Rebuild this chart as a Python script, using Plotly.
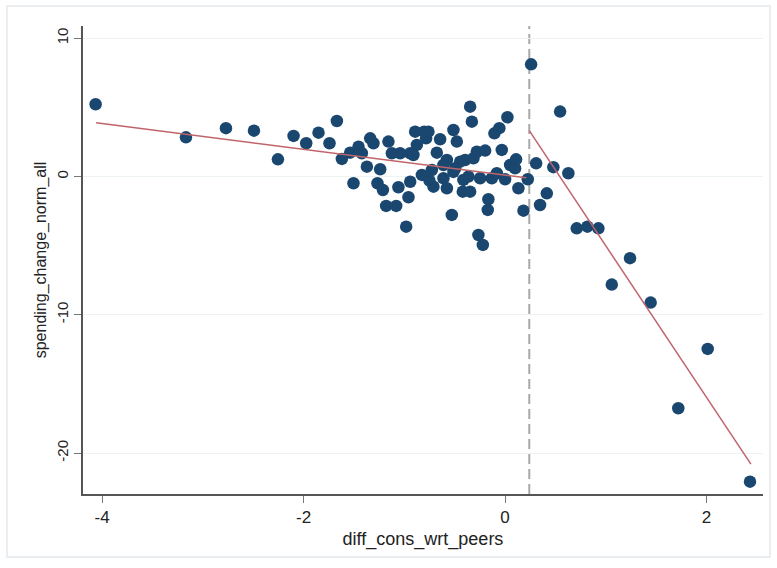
import plotly.graph_objects as go

# Scatter data
x_vals = [-4.065, -3.168, -2.771, -2.493, -2.255, -2.100, -1.974, -1.852, -1.743, -1.670,
          -1.620, -1.538, -1.505, -1.455, -1.422, -1.372, -1.339, -1.307, -1.267, -1.240,
          -1.213, -1.181, -1.158, -1.124, -1.081, -1.059, -1.042, -0.982, -0.959, -0.942,
          -0.942, -0.910, -0.893, -0.876, -0.826, -0.804, -0.784, -0.761, -0.751, -0.727,
          -0.711, -0.678, -0.645, -0.612, -0.578, -0.578, -0.529, -0.513, -0.479, -0.496,
          -0.446, -0.397, -0.414, -0.364, -0.347, -0.330, -0.314, -0.420, -0.347, -0.281,
          -0.265, -0.221, -0.248, -0.198, -0.166, -0.172, -0.132, -0.106, -0.057, -0.082,
          -0.033, 0.000, 0.023, 0.050, 0.099, 0.109, 0.132, 0.182, 0.225, 0.258,
          0.308, 0.347, 0.414, 0.479, 0.546, 0.628, 0.711, 0.817, 0.926, 1.059,
          1.240, 1.445, 1.719, 2.011, 2.431, -0.612, -0.513]
y_vals = [5.22, 2.83, 3.49, 3.31, 1.24, 2.93, 2.40, 3.17, 2.40, 4.01,
          1.27, 1.72, -0.49, 2.15, 1.68, 0.71, 2.76, 2.40, -0.49, 0.52,
          -0.98, -2.13, 2.52, 1.68, -2.13, -0.78, 1.68, -3.63, -1.50, -0.38,
          1.68, 1.55, 3.24, 2.28, 0.11, 3.24, 2.76, 3.24, -0.30, 0.47,
          -0.74, 1.72, 2.69, 0.83, -0.85, 1.19, -2.78, 3.36, 2.52, 0.59,
          1.07, 1.19, -0.25, -0.01, 5.05, 3.96, 1.32, -1.10, -1.10, 1.79,
          -4.23, -4.95, -0.13, 1.87, -1.65, -2.42, -0.13, 3.12, 3.49, 0.23,
          1.92, -0.20, 4.28, 0.83, 0.59, 1.24, -0.85, -2.47, -0.20, 8.11,
          0.95, -2.06, -1.22, 0.67, 4.69, 0.23, -3.75, -3.63, -3.75, -7.82,
          -5.91, -9.12, -16.76, -12.47, -22.07, -0.13, 0.33]

# Linear fits on each side of the cutoff
left_fit_x = [-4.06, 0.21]
left_fit_y = [3.89, -0.10]
right_fit_x = [0.24, 2.44]
right_fit_y = [3.31, -20.80]
cutoff = 0.24

x_ticks = [-4, -2, 0, 2]
x_tick_labels = ["-4", "-2", "0", "2"]
y_ticks = [-20, -10, 0, 10]
y_tick_labels = ["-20", "-10", "0", "10"]

FONT = "Liberation Sans, Arial, sans-serif"

fig = go.Figure()
fig.add_trace(go.Scatter(x=x_vals, y=y_vals, mode="markers",
                         marker=dict(color="#1a476f", size=12.5, line=dict(width=0)),
                         showlegend=False))
fig.add_trace(go.Scatter(x=left_fit_x, y=left_fit_y, mode="lines",
                         line=dict(color="#c0646b", width=1.5), showlegend=False))
fig.add_trace(go.Scatter(x=right_fit_x, y=right_fit_y, mode="lines",
                         line=dict(color="#c0646b", width=1.5), showlegend=False))

fig.add_shape(type="line", xref="x", yref="paper", x0=cutoff, x1=cutoff, y0=0, y1=1,
              line=dict(color="#a8a8a8", width=2, dash="10px,5px"), layer="below")

# outer graph-region frame
fig.add_shape(type="rect", xref="paper", yref="paper",
              x0=-0.1118, x1=1.0103, y0=-0.1346, y1=1.0427,
              line=dict(color="#e4e9ec", width=1.5), fillcolor="rgba(0,0,0,0)", layer="below")

fig.update_layout(
    width=777, height=568,
    margin=dict(l=83, r=14, t=26, b=74, autoexpand=False),
    paper_bgcolor="white", plot_bgcolor="white",
    font=dict(family=FONT, size=17, color="#222"),
)
fig.update_xaxes(range=[-4.19, 2.56], tickvals=x_ticks, ticktext=x_tick_labels,
                 ticks="outside", ticklen=7, automargin=False,
                 tickcolor="#777", tickwidth=1.2, showline=True, linecolor="#555", linewidth=1.5,
                 showgrid=False, zeroline=False, tickfont=dict(size=17),
                 title=dict(text="diff_cons_wrt_peers", font=dict(size=18), standoff=6))
fig.update_yaxes(range=[-22.96, 10.88], tickvals=y_ticks, ticktext=y_tick_labels,
                 ticks="outside", ticklen=7, automargin=False,
                 tickcolor="#777", tickwidth=1.2, showline=True, linecolor="#555", linewidth=1.5,
                 showgrid=True, gridcolor="#edf2f3", gridwidth=1, zeroline=False,
                 tickangle=-90, tickfont=dict(size=15),
                 title=dict(text="spending_change_norm_all", font=dict(size=16), standoff=4))

fig.write_html("out.html", config={"displayModeBar": False},
               post_script="document.body.style.margin='0';")
